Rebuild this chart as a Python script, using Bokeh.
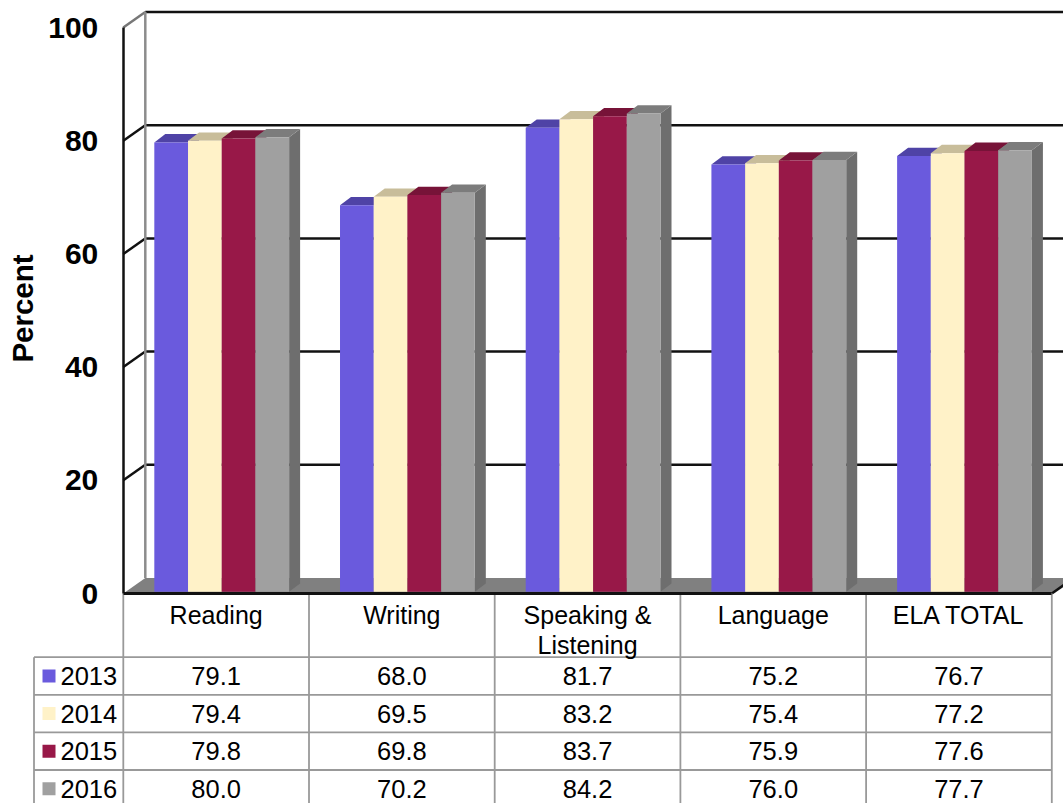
from bokeh.plotting import figure
from bokeh.models import Range1d, LinearAxis, FixedTicker
from bokeh.core.properties import value
from bokeh.embed import file_html
from bokeh.resources import INLINE

categories = ["Reading", "Writing", "Speaking &\nListening", "Language", "ELA TOTAL"]
years = ["2013", "2014", "2015", "2016"]
v2013 = [79.1, 68.0, 81.7, 75.2, 76.7]
v2014 = [79.4, 69.5, 83.2, 75.4, 77.2]
v2015 = [79.8, 69.8, 83.7, 75.9, 77.6]
v2016 = [80.0, 70.2, 84.2, 76.0, 77.7]
series = [v2013, v2014, v2015, v2016]
front = ["#6A5ADD", "#FFF2C8", "#981848", "#A0A0A0"]
top = ["#4F43A6", "#C8BD9A", "#771338", "#7C7C7C"]
side = ["#3F3685", "#A89E80", "#5E0F2C", "#6E6E6E"]
y_ticks = [0, 20, 40, 60, 80, 100]

FONT = "Liberation Sans"
W, H = 1063, 803
OX, OY = 0, 0
CAT_PX, UNIT_PX = 185.7, 5.66
X0_PX, Y0_PX = 122.8, 593.0          # picture pixel of category 0 / value 0
dx_wall, dy_wall = 22 / CAT_PX, 15.5 / UNIT_PX
dx_bar, dy_bar = 11 / CAT_PX, 8.3 / UNIT_PX
bar_w, bar_off = 33.7 / CAT_PX, 0.167
lift_top, lift_bot = 0.6, 0.3
n = len(categories)

p = figure(width=W, height=H, output_backend="svg", toolbar_location=None,
           x_axis_location=None, y_axis_location=None,
           x_range=Range1d((OX - X0_PX) / CAT_PX, (OX + W - X0_PX) / CAT_PX),
           y_range=Range1d((Y0_PX - OY - H) / UNIT_PX, (Y0_PX - OY) / UNIT_PX),
           min_border=0, min_border_left=0, min_border_right=0, min_border_top=0, min_border_bottom=0)
p.outline_line_color = None
p.background_fill_color = "white"
p.grid.visible = False

xr_end = p.x_range.end

# floor
p.patch([0, dx_wall, n + dx_wall, n], [0, dy_wall, dy_wall, 0], fill_color="#808080", line_color=None)

# back wall gridlines and side-wall diagonals
for t in y_ticks[1:]:
    p.line([dx_wall, xr_end], [t + dy_wall, t + dy_wall], line_color="#111111", line_width=2.5)
    p.line([0, dx_wall], [t, t + dy_wall], line_color="#777777" if t == 100 else "#111111", line_width=2.5)
p.line([dx_wall, dx_wall], [dy_wall, 100 + dy_wall], line_color="#8C8C8C", line_width=2.5)
p.line([n, n + dx_wall], [0, dy_wall], line_color="#111111", line_width=2.5)

# bars
for i in range(n):
    for s, vals in enumerate(series):
        l = i + bar_off + s * bar_w
        r = l + bar_w
        v = vals[i] + lift_top
        b = lift_bot
        p.patch([r, r + dx_bar, r + dx_bar, r], [b, b + dy_bar, v + dy_bar, v], fill_color=side[s], line_color=None)
        p.patch([l, l + dx_bar, r + dx_bar, r], [v, v + dy_bar, v + dy_bar, v], fill_color=top[s], line_color=None)
        p.quad(left=l, right=r, bottom=b, top=v, fill_color=front[s], line_color=None)

# table grid
GRID = "#999999"
row_h = 37.6 / UNIT_PX
row0 = (Y0_PX - 656.7) / UNIT_PX
bottom = p.y_range.start
head_l = (33.5 - X0_PX) / CAT_PX
for c in range(n + 1):
    p.line([c, c], [0, bottom], line_color=GRID, line_width=1.8)
p.line([head_l, head_l], [row0, bottom], line_color=GRID, line_width=1.8)
for r in range(len(years)):
    yy = row0 - r * row_h
    p.line([head_l, n], [yy, yy], line_color=GRID, line_width=1.8)

# axes
ya = LinearAxis(fixed_location=0, ticker=FixedTicker(ticks=y_ticks), bounds=(0, 100))
ya.major_label_text_font = FONT
ya.major_label_text_font_style = "bold"
ya.major_label_text_font_size = "30px"
ya.major_label_text_color = "black"
ya.major_label_standoff = 19
ya.major_tick_line_color = None
ya.minor_tick_line_color = None
ya.axis_line_color = "#111111"
ya.axis_line_width = 2.5
p.add_layout(ya, "left")

xa = LinearAxis(fixed_location=0, ticker=FixedTicker(ticks=[i + 0.5 for i in range(n)]), bounds=(0, n))
xa.major_label_overrides = {i + 0.5: c for i, c in enumerate(categories)}
xa.major_label_text_font = FONT
xa.major_label_text_font_size = "25px"
xa.major_label_text_color = "black"
xa.major_label_text_line_height = 1.1
xa.major_label_standoff = 1
xa.major_tick_line_color = None
xa.minor_tick_line_color = None
xa.axis_line_color = "#111111"
xa.axis_line_width = 3
p.add_layout(xa, "below")

# table text and legend keys
for r, (yr, vals) in enumerate(zip(years, series)):
    yc = row0 - (r + 0.5) * row_h
    p.text([i + 0.5 for i in range(n)], [yc] * n, text=[f"{v:.1f}" for v in vals],
           text_font=value(FONT), text_font_size="25.5px", text_color="black",
           text_align="center", text_baseline="middle")
    p.text([(60 - X0_PX) / CAT_PX], [yc], text=[yr], text_font=value(FONT), text_font_size="25.5px",
           text_color="black", text_align="left", text_baseline="middle")
    p.scatter([(48.5 - X0_PX) / CAT_PX], [yc], marker="square", size=13, fill_color=front[r], line_color=None)

# axis title
p.text([(22 - X0_PX) / CAT_PX], [(Y0_PX - 308) / UNIT_PX], text=["Percent"], angle=90, angle_units="deg",
       text_font=value(FONT), text_font_style="bold", text_font_size="29.5px", text_color="black",
       text_align="center", text_baseline="middle")

open("out.html", "w").write(file_html(p, INLINE))
